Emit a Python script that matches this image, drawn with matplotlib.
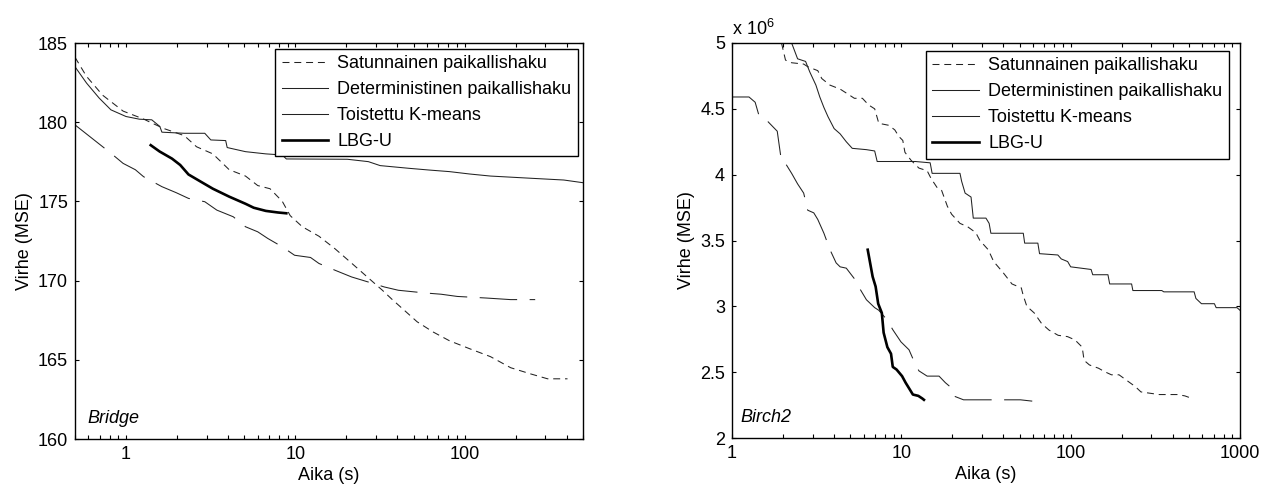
import matplotlib
matplotlib.use("Agg")
import matplotlib.pyplot as plt
from matplotlib.lines import Line2D
from matplotlib.ticker import FixedLocator, FuncFormatter, LogLocator, NullFormatter

plt.rcParams['font.family'] = ['Liberation Sans', 'DejaVu Sans']
plt.rcParams['mathtext.fontset'] = 'custom'
plt.rcParams['mathtext.rm'] = 'Liberation Sans'
plt.rcParams['lines.scale_dashes'] = False

# ---------------- Bridge ----------------
bridge_sat_t = [0.5, 0.584, 0.729, 0.962, 1.27, 1.42, 1.675, 2.21, 2.61, 3.26, 4.07, 5.08, 6.0,
                7.09, 8.38, 9.33, 11.0, 13.8, 17.2, 21.5, 26.8, 32.6, 37.4, 44.3, 52.4, 65.3,
                81.4, 107, 142, 187, 247, 309, 405]
bridge_sat_e = [184.1, 182.9, 181.7, 180.7, 180.2, 179.95, 179.6, 179.15, 178.45, 178.0, 177.0,
                176.6, 176.0, 175.8, 175.0, 174.1, 173.4, 172.8, 172.0, 171.1, 170.2, 169.4,
                168.8, 168.1, 167.4, 166.75, 166.2, 165.7, 165.2, 164.5, 164.1, 163.8, 163.8]

bridge_det_t = [0.5, 0.585, 0.695, 0.815, 1.0, 1.2, 1.42, 1.585, 1.63, 2.21, 2.92, 3.17, 3.88,
                3.96, 5.08, 6.7, 8.38, 8.85, 20.3, 27.0, 31.7, 46.8, 61.7, 81.4, 107, 142, 247,
                385, 500]
bridge_det_e = [183.5, 182.47, 181.52, 180.78, 180.36, 180.19, 180.15, 179.73, 179.37, 179.3,
                179.3, 178.88, 178.84, 178.4, 178.14, 178.0, 177.93, 177.68, 177.66, 177.51,
                177.26, 177.09, 176.98, 176.88, 176.73, 176.6, 176.46, 176.35, 176.18]

bridge_km_t = [0.5, 0.815, 0.962, 1.136, 1.27, 1.63, 1.98, 2.34, 2.92, 3.44, 4.3, 5.08, 6.0,
               6.88, 8.38, 9.9, 12.3, 13.8, 17.2, 21.5, 26.8, 33.5, 40.6, 58.3, 72.6, 90.5,
               134, 187, 261]
bridge_km_e = [179.83, 178.04, 177.4, 177.0, 176.56, 175.93, 175.55, 175.19, 174.98, 174.45,
               174.03, 173.4, 173.08, 172.66, 172.13, 171.6, 171.46, 171.08, 170.65, 170.23,
               169.92, 169.6, 169.39, 169.22, 169.14, 169.0, 168.9, 168.8, 168.8]

bridge_lbg_t = [1.40, 1.58, 1.87, 2.09, 2.34, 2.76, 3.26, 4.07, 5.08, 5.68, 6.7, 7.9, 8.85]
bridge_lbg_e = [178.55, 178.15, 177.7, 177.3, 176.7, 176.25, 175.8, 175.3, 174.85, 174.6,
                174.4, 174.3, 174.25]

# ---------------- Birch2 (MSE in millions) ----------------
birch_sat_t = [1.96, 2.07, 2.25, 2.65, 2.80, 3.21, 3.39, 3.79, 4.35, 4.73, 5.28, 5.89, 6.40,
               6.96, 7.36, 8.43, 9.15, 9.67, 10.2, 10.5, 11.4, 12.7, 14.2, 15.0, 16.3, 17.3,
               18.7, 19.8, 22.2, 24.6, 27.5, 29.1, 32.6, 35.1, 39.7, 45.0, 51.1, 52.4, 55.1,
               60.9, 67.3, 74.4, 84.3, 95.8, 106, 117, 120, 129, 146, 158, 174, 193, 213, 241,
               260, 294, 333, 427, 472, 522]
birch_sat_e = [5.0, 4.87, 4.85, 4.84, 4.82, 4.79, 4.73, 4.68, 4.65, 4.62, 4.58, 4.58, 4.53,
               4.50, 4.39, 4.375, 4.34, 4.29, 4.26, 4.17, 4.11, 4.05, 4.03, 3.97, 3.90, 3.88,
               3.76, 3.70, 3.63, 3.605, 3.56, 3.50, 3.43, 3.34, 3.26, 3.17, 3.14, 3.085, 3.0,
               2.95, 2.87, 2.82, 2.78, 2.77, 2.745, 2.69, 2.59, 2.555, 2.53, 2.505, 2.48, 2.48,
               2.44, 2.39, 2.35, 2.34, 2.33, 2.33, 2.32, 2.30]

birch_det_t = [2.25, 2.44, 2.72, 2.88, 3.13, 3.30, 3.49, 3.69, 4.01, 4.35, 4.73, 5.13, 6.22,
               6.96, 7.2, 12.1, 14.8, 15.2, 22.2, 22.7, 23.8, 25.8, 26.6, 31.6, 33.0, 33.8,
               52.5, 53.5, 64.0, 65.5, 84, 88, 96, 100, 115, 132, 135, 166, 170, 229, 233, 345,
               355, 536, 549, 592, 706, 723, 960, 1000]
birch_det_e = [5.0, 4.88, 4.86, 4.78, 4.68, 4.59, 4.51, 4.44, 4.35, 4.31, 4.25, 4.20, 4.19,
               4.18, 4.10, 4.10, 4.09, 4.01, 4.01, 3.95, 3.86, 3.83, 3.67, 3.67, 3.63, 3.555,
               3.555, 3.48, 3.48, 3.40, 3.39, 3.36, 3.34, 3.30, 3.29, 3.28, 3.24, 3.24, 3.17,
               3.17, 3.12, 3.12, 3.11, 3.11, 3.06, 3.02, 3.02, 2.99, 2.99, 2.97]

birch_km_t = [1.0, 1.26, 1.37, 1.45, 1.61, 1.85, 1.96, 2.07, 2.25, 2.44, 2.65, 2.80, 3.04,
              3.21, 3.49, 3.79, 4.12, 4.35, 4.73, 5.28, 5.74, 6.22, 6.96, 7.36, 8.2, 8.93,
              9.95, 11.1, 12.0, 12.7, 14.2, 16.7, 18.2, 19.8, 20.3, 23.3, 29.1, 36.3, 50.5,
              59.3]
birch_km_e = [4.59, 4.59, 4.55, 4.44, 4.41, 4.33, 4.10, 4.085, 4.01, 3.93, 3.86, 3.73, 3.71,
              3.66, 3.555, 3.43, 3.33, 3.30, 3.29, 3.21, 3.125, 3.05, 2.99, 2.97, 2.90, 2.82,
              2.73, 2.67, 2.57, 2.51, 2.47, 2.47, 2.42, 2.38, 2.32, 2.29, 2.29, 2.29, 2.29,
              2.28]

birch_lbg_t = [6.33, 6.77, 7.05, 7.3, 7.67, 7.86, 8.27, 8.69, 8.9, 9.37, 10.1, 10.6, 11.2,
               11.7, 12.6, 13.3, 13.6]
birch_lbg_e = [3.43, 3.225, 3.15, 3.02, 2.95, 2.80, 2.69, 2.64, 2.54, 2.52, 2.47, 2.42, 2.37,
               2.33, 2.32, 2.30, 2.29]

labels = ['Satunnainen paikallishaku', 'Deterministinen paikallishaku',
          'Toistettu K-means', 'LBG-U']

FS = 13
THIN = 0.75
SAT_STYLE = dict(color='#222222', lw=THIN, dashes=(5, 3.5))
DET_STYLE = dict(color='#222222', lw=THIN)
KM_STYLE = dict(color='#222222', lw=THIN, dashes=(27, 9))
LBG_STYLE = dict(color='black', lw=1.9)

fig = plt.figure(figsize=(12.74, 4.86), dpi=100)
ax1 = fig.add_axes([75 / 1274, 47 / 486, 508 / 1274, 396 / 486])
ax2 = fig.add_axes([732 / 1274, 48 / 486, 508 / 1274, 395 / 486])


def style_axes(ax):
    ax.set_xscale('log')
    ax.tick_params(which='both', direction='in', top=True, right=True,
                   length=3, width=0.8, labelsize=FS, pad=5)
    for s in ax.spines.values():
        s.set_linewidth(1.0)
    ax.xaxis.set_minor_locator(LogLocator(base=10, subs=range(2, 10)))
    ax.xaxis.set_minor_formatter(NullFormatter())
    ax.xaxis.set_major_formatter(FuncFormatter(lambda v, p: f'{v:g}'))


def draw(ax, sat, det, km, lbg):
    ax.plot(*sat, **SAT_STYLE)
    ax.plot(*det, **DET_STYLE)
    ax.plot(*km, **KM_STYLE)
    ax.plot(*lbg, **LBG_STYLE)
    handles = [Line2D([], [], **SAT_STYLE), Line2D([], [], **DET_STYLE),
               Line2D([], [], color='#222222', lw=THIN), Line2D([], [], **LBG_STYLE)]
    return handles


# Bridge panel
h = draw(ax1, (bridge_sat_t, bridge_sat_e), (bridge_det_t, bridge_det_e),
         (bridge_km_t, bridge_km_e), (bridge_lbg_t, bridge_lbg_e))
style_axes(ax1)
ax1.set_xlim(0.5, 500)
ax1.set_ylim(160, 185)
ax1.yaxis.set_major_locator(FixedLocator([160, 165, 170, 175, 180, 185]))
ax1.xaxis.set_major_locator(FixedLocator([1, 10, 100]))
leg = ax1.legend(h, labels, loc='upper right', bbox_to_anchor=(0.99, 0.986),
                 borderaxespad=0, fontsize=FS, fancybox=False, framealpha=1,
                 edgecolor='black', handlelength=2.6, handletextpad=0.5,
                 borderpad=0.35, labelspacing=0.5)
leg.get_frame().set_linewidth(1.0)
ax1.text(0.025, 0.03, 'Bridge', transform=ax1.transAxes, fontsize=FS, style='italic',
         ha='left', va='bottom')
ax1.set_xlabel('Aika (s)', fontsize=FS)
ax1.set_ylabel('Virhe (MSE)', fontsize=FS)
ax1.yaxis.set_label_coords(-0.083, 0.5)
ax1.xaxis.set_label_coords(0.5, -0.07)

# Birch2 panel
h = draw(ax2, (birch_sat_t, birch_sat_e), (birch_det_t, birch_det_e),
         (birch_km_t, birch_km_e), (birch_lbg_t, birch_lbg_e))
style_axes(ax2)
ax2.set_xlim(1, 1000)
ax2.set_ylim(2, 5)
ax2.yaxis.set_major_locator(FixedLocator([2, 2.5, 3, 3.5, 4, 4.5, 5]))
ax2.yaxis.set_major_formatter(FuncFormatter(lambda v, p: f'{v:g}'))
ax2.xaxis.set_major_locator(FixedLocator([1, 10, 100, 1000]))
leg = ax2.legend(h, labels, loc='upper right', bbox_to_anchor=(0.978, 0.98),
                 borderaxespad=0, fontsize=FS, fancybox=False, framealpha=1,
                 edgecolor='black', handlelength=2.6, handletextpad=0.5,
                 borderpad=0.35, labelspacing=0.5)
leg.get_frame().set_linewidth(1.0)
ax2.text(0.016, 0.03, 'Birch2', transform=ax2.transAxes, fontsize=FS, style='italic',
         ha='left', va='bottom')
ax2.text(0.0, 1.01, r'x 10$^{6}$', transform=ax2.transAxes, fontsize=FS,
         ha='left', va='bottom')
ax2.set_xlabel('Aika (s)', fontsize=FS)
ax2.set_ylabel('Virhe (MSE)', fontsize=FS)
ax2.yaxis.set_label_coords(-0.073, 0.5)
ax2.xaxis.set_label_coords(0.5, -0.07)

fig.savefig('out.png', dpi=100)
